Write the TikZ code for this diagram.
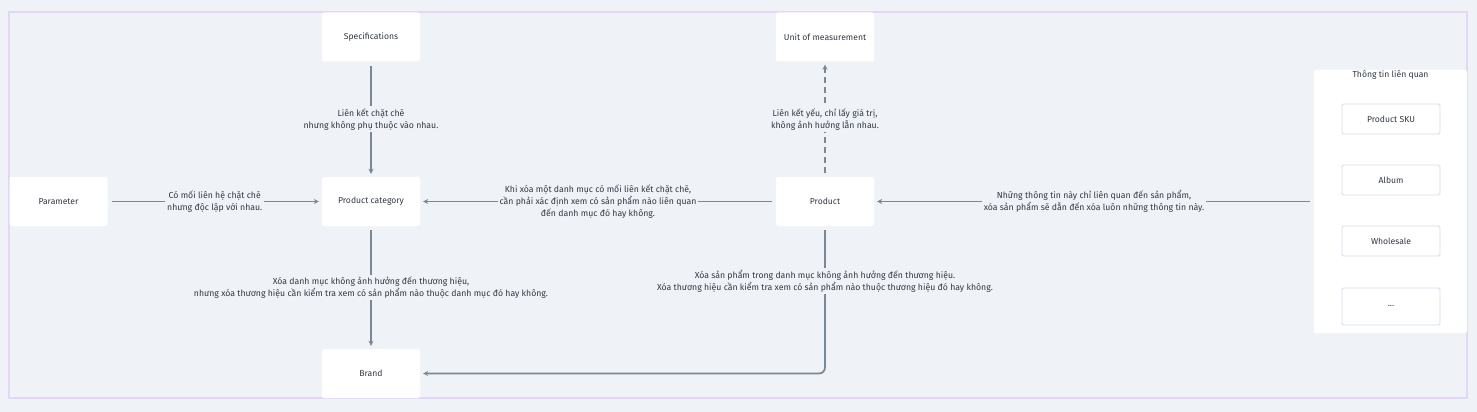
\documentclass[tikz,border=0pt]{standalone}
\usepackage{fontspec}
\setmainfont{Fira Sans}
\usetikzlibrary{arrows.meta}
\definecolor{bg}{HTML}{EFF3F7}
\definecolor{framec}{HTML}{E3D7F7}
\definecolor{edgec}{HTML}{7B8794}
\definecolor{txt}{HTML}{313845}
\definecolor{inboxc}{HTML}{D3DCE6}
\begin{document}
\begin{tikzpicture}[x=1pt,y=-1pt,
  box/.style={fill=white, rounded corners=2pt, minimum width=98pt, minimum height=49pt, inner sep=0pt, font=\fontsize{8.6}{10}\selectfont, text=txt},
  subbox/.style={fill=white, draw=inboxc, line width=0.8pt, rounded corners=1.5pt, minimum width=98pt, minimum height=30pt, inner sep=0pt, font=\fontsize{8.6}{10}\selectfont, text=txt},
  lbl/.style={fill=bg, align=center, inner sep=2pt, font=\fontsize{8.7}{12}\selectfont, text=txt},
  conn/.style={draw=edgec, line width=1.7pt, -{Stealth[length=5pt,width=5pt]}, shorten <=4pt, shorten >=3pt},
  dashline/.style={dash pattern=on 6pt off 4pt}
]
\useasboundingbox (0,0) rectangle (1477,412);
\fill[bg] (0,0) rectangle (1477,412);
\draw[framec, line width=1.6pt] (9,12) rectangle (1467,398);

\node[box] (spec) at (371,37) {Specifications};
\node[box] (unit) at (825,37) {Unit of measurement};
\node[box] (param) at (58.5,201.5) {Parameter};
\node[box] (cat) at (371,201.5) {Product category};
\node[box] (prod) at (825,201.5) {Product};
\node[box] (brand) at (371,373.5) {Brand};

\node[fill=white, rounded corners=2pt, minimum width=153pt, minimum height=263pt, inner sep=0pt] (panel) at (1390.5,201.5) {};
\node[font=\fontsize{8.6}{10}\selectfont, text=txt, inner sep=0pt] (ptitle) at (1390.5,75.5) {Thông tin liên quan};
\node[subbox] (sku) at (1391,119) {Product SKU};
\node[subbox] (album) at (1391,180) {Album};
\node[subbox] (whole) at (1391,241) {Wholesale};
\node[subbox, minimum height=37pt] (more) at (1391,306.5) {...};

\draw[conn] (spec) -- node[lbl] {Liên kết chặt chẽ\\nhưng không phụ thuộc vào nhau.} (cat);
\draw[conn] (param) -- node[lbl] {Có mối liên hệ chặt chẽ\\nhưng độc lập với nhau.} (cat);
\draw[conn] (prod) -- node[lbl] {Khi xóa một danh mục có mối liên kết chặt chẽ,\\cần phải xác định xem có sản phẩm nào liên quan\\đến danh mục đó hay không.} (cat);
\draw[conn, dashline] (prod) -- node[lbl] {Liên kết yếu, chỉ lấy giá trị,\\không ảnh hưởng lẫn nhau.} (unit);
\draw[conn] (panel) -- node[lbl] {Những thông tin này chỉ liên quan đến sản phẩm,\\xóa sản phẩm sẽ dẫn đến xóa luôn những thông tin này.} (prod);
\draw[conn] (cat) -- node[lbl] {Xóa danh mục không ảnh hưởng đến thương hiệu,\\nhưng xóa thương hiệu cần kiểm tra xem có sản phẩm nào thuộc danh mục đó hay không.} (brand);
\draw[conn, rounded corners=6pt] (prod.south) -- (prod.south |- brand.east) -- (brand.east);
\node[lbl] (pblbl) at (825,281) {Xóa sản phẩm trong danh mục không ảnh hưởng đến thương hiệu.\\Xóa thương hiệu cần kiểm tra xem có sản phẩm nào thuộc thương hiệu đó hay không.};
\end{tikzpicture}
\end{document}
